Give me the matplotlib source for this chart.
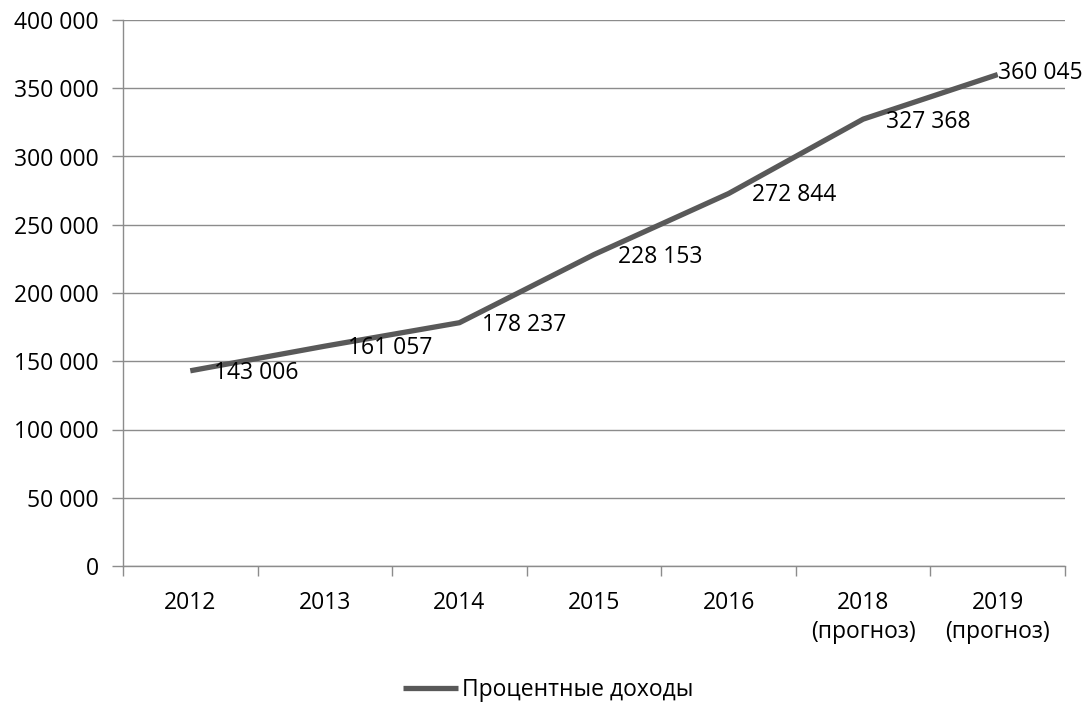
import matplotlib
matplotlib.use("Agg")
import matplotlib.pyplot as plt
from matplotlib.ticker import FuncFormatter, FixedLocator
import numpy as np

categories = ["2012", "2013", "2014", "2015", "2016", "2018\n(прогноз)", "2019\n(прогноз)"]
values = [143006, 161057, 178237, 228153, 272844, 327368, 360045]
value_labels = ["143 006", "161 057", "178 237", "228 153", "272 844", "327 368", "360 045"]
series_name = "Процентные доходы"

plt.rcParams['font.family'] = ['Open Sans', 'DejaVu Sans']
FS = 16.5

W, H = 1089, 706
fig = plt.figure(figsize=(W/100, H/100), dpi=100)
left, right, top, bottom = 123, 1065, 20, 566
ax = fig.add_axes([left/W, 1-bottom/H, (right-left)/W, (bottom-top)/H])

x = np.arange(len(categories))
line_color = "#595959"
grid_color = "#8c8c8c"
ax.plot(x, values, color=line_color, lw=3.8, solid_capstyle='butt', label=series_name, zorder=3)

ax.set_xlim(-0.5, len(categories)-0.5)
ax.set_ylim(0, 400000)
ax.set_yticks(np.arange(0, 400001, 50000))
ax.yaxis.set_major_formatter(FuncFormatter(lambda v, p: f"{int(v):,}".replace(",", " ")))
ax.grid(axis='y', color=grid_color, lw=1.0, zorder=0)
ax.set_axisbelow(True)

ax.set_xticks(x)
ax.set_xticklabels(categories, linespacing=1.3)
ax.xaxis.set_minor_locator(FixedLocator(np.arange(-0.5, len(categories), 1.0)))
ax.tick_params(axis='x', which='major', length=0, pad=18, labelsize=FS, colors='#000000')
ax.tick_params(axis='x', which='minor', length=7, width=1, color=grid_color, direction='out')
ax.tick_params(axis='y', length=8, width=1, color=grid_color, labelsize=FS, pad=9.5)

for s in ['top', 'right']:
    ax.spines[s].set_visible(False)
for s in ['left', 'bottom']:
    ax.spines[s].set_color(grid_color)
    ax.spines[s].set_linewidth(1.0)

offsets = [(17, -1.5), (16.5, -1), (16.5, -1.5), (17, -1.5), (17, -1.2), (16.5, -2), (0.5, 1)]
for xi, v, lab, off in zip(x, values, value_labels, offsets):
    ax.annotate(lab, (xi, v), xytext=off, textcoords='offset points',
                ha='left', va='center', fontsize=FS, color='#000000',
                annotation_clip=False, zorder=4)

leg = fig.legend(loc='center', bbox_to_anchor=(548/W, 1-690/H), frameon=False,
                 fontsize=FS, handlelength=2.4, handletextpad=0.2)

fig.savefig("out.png", dpi=100)
